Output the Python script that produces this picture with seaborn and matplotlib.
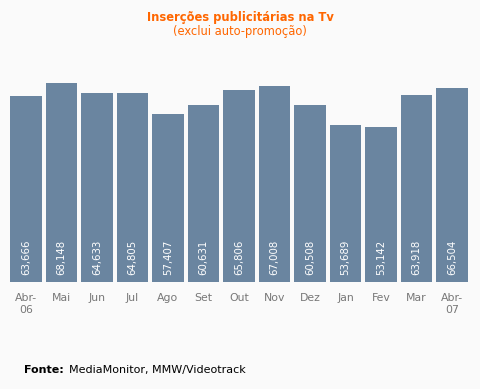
import numpy as np
import pandas as pd
import matplotlib
matplotlib.use("Agg")
import matplotlib.pyplot as plt
import seaborn as sns

# data
months = ["Abr-\n06", "Mai", "Jun", "Jul", "Ago", "Set", "Out",
          "Nov", "Dez", "Jan", "Fev", "Mar", "Abr-\n07"]
insercoes = [63666, 68148, 64633, 64805, 57407, 60631, 65806,
             67008, 60508, 53689, 53142, 63918, 66504]

bg = "#fafafa"
bar_color = "#6a85a0"
orange = "#ff6600"

sns.set_theme(style="white")
plt.rcParams['font.family'] = ['DejaVu Sans']

df = pd.DataFrame({"mes": months, "valor": insercoes})

fig = plt.figure(figsize=(4.8, 3.89), dpi=100, facecolor=bg)
ax = fig.add_axes([10/480, 1 - 282/389, 458/480, (282 - 50)/389])
ax.set_facecolor(bg)

sns.barplot(data=df, x="mes", y="valor", color=bar_color, width=0.9,
            saturation=1, linewidth=0, ax=ax)

ax.set_xlim(-0.45, len(months) - 0.55)
ax.set_ylim(0, (282 - 50) * 342)
for s in ax.spines.values():
    s.set_visible(False)
ax.set_yticks([])
ax.set_xlabel("")
ax.set_ylabel("")
ax.tick_params(axis="x", length=0, pad=8, labelsize=7.8, labelcolor="#777777")
for t in ax.get_xticklabels():
    t.set_linespacing(1.25)
    t.set_verticalalignment("top")

for i, v in enumerate(insercoes):
    ax.text(i, 2300, f"{v:,}", rotation=90, ha="center", va="bottom",
            color="white", fontsize=7.3)

fig.text(0.5, 1 - 17/389, "Inserções publicitárias na Tv", ha="center",
         va="center", color=orange, fontsize=8.3, fontweight="bold")
fig.text(0.5, 1 - 32/389, "(exclui auto-promoção)", ha="center",
         va="center", color=orange, fontsize=8.3)
fig.text(24/480, 1 - 370/389, "Fonte:", ha="left", va="center",
         color="black", fontsize=8, fontweight="bold")
fig.text(69/480, 1 - 370/389, "MediaMonitor, MMW/Videotrack", ha="left",
         va="center", color="black", fontsize=8)

fig.savefig("out.png", dpi=100, facecolor=bg)
